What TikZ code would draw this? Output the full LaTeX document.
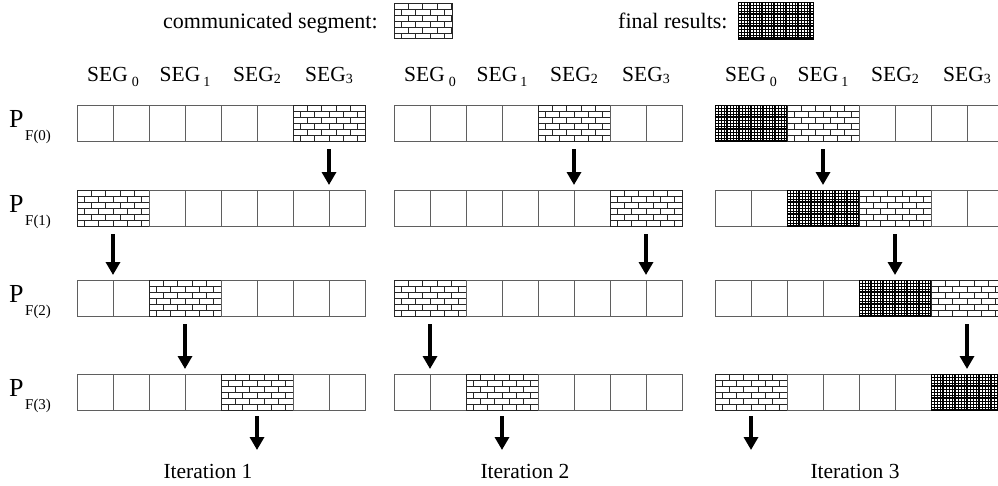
\documentclass[tikz,border=0pt]{standalone}
\usepackage{fontspec}
\setmainfont{Liberation Serif}
\usetikzlibrary{arrows.meta}

\definecolor{cellgray}{RGB}{95,95,95}
\newcommand{\subfont}{\fontsize{15}{15}\selectfont}
\newcommand{\segsubfont}{\fontsize{14}{14}\selectfont}

\tikzset{
  segbox/.style={minimum width=72pt, minimum height=36pt, inner sep=0pt, outer sep=0pt},
  plain/.style={segbox, draw=cellgray, line width=0.9pt,
    path picture={\draw[cellgray, line width=0.9pt]
      (path picture bounding box.north) -- (path picture bounding box.south);}},
  brick/.style={segbox, draw=black!85, line width=0.9pt},
  final/.style={segbox, draw=black, line width=0.9pt},
  brickline/.style={black!85, line width=0.8pt},
  gridline/.style={black, line width=0.8pt},
  gridbold/.style={black, line width=1.15pt},
  flow/.style={line width=3.3pt, -{Triangle[width=14pt,length=13pt]}},
  txt/.style={font=\fontsize{21.5}{24}\selectfont, inner sep=0pt},
  plab/.style={font=\fontsize{26}{28}\selectfont, inner sep=0pt, anchor=base west},
}

% brick wall inside a node: courses 6pt high, bricks 14.4pt long
\newcommand{\brickfill}[1]{%
  \begin{scope}
    \clip (#1.north west) rectangle (#1.south east);
    \begin{scope}[shift={(#1.north west)}]
      \foreach \c in {1,...,6} \draw[brickline] (0,\c*6) -- ++(100,0);
      \foreach \c in {0,...,6} {
        \pgfmathsetmacro\off{mod(\c,2)*7.2}
        \foreach \k in {0,...,6} \draw[brickline] (\off+\k*14.4,\c*6) -- ++(0,6);
      }
    \end{scope}
  \end{scope}
  \draw[black!85, line width=0.9pt] (#1.north west) rectangle (#1.south east);}

% dense cross-hatch inside a node
\newcommand{\gridfill}[1]{%
  \begin{scope}
    \clip (#1.north west) rectangle (#1.south east);
    \begin{scope}[shift={(#1.north west)}]
      \foreach \k in {0,...,27} {
        \draw[gridline] (\k*3,0) -- ++(0,45);
        \draw[gridline] (0,\k*3) -- ++(85,0);
      }
      \foreach \k in {0,...,7} {
        \draw[gridbold] (\k*12,0) -- ++(0,45);
        \draw[gridbold] (0,\k*12) -- ++(85,0);
      }
    \end{scope}
  \end{scope}
  \draw[black, line width=0.9pt] (#1.north west) rectangle (#1.south east);}

\begin{document}
\begin{tikzpicture}[x=1pt, y=-1pt]
  \useasboundingbox (0,0) rectangle (998,485);
  \fill[white] (0,0) rectangle (998,485);

  % legend
  \node[txt, font=\fontsize{22}{24}\selectfont, anchor=base west] (legc) at (163,28) {communicated segment:};
  \node[brick, minimum width=58pt, minimum height=35pt, anchor=north west] (legcbox) at (394,3) {};
  \brickfill{legcbox}
  \node[txt, font=\fontsize{22}{24}\selectfont, anchor=base west] (legf) at (618,28) {final results:};
  \node[final, minimum width=75pt, minimum height=37pt, anchor=north west] (legfbox) at (738,2) {};
  \gridfill{legfbox}

  % row labels
  \foreach \rw/\yt in {0/105, 1/190, 2/280, 3/374} {
    \node[plab] (p\rw) at (9,\yt+22) {P\hspace{1.5pt}\raisebox{-13pt}{\subfont F(\rw)}};
  }

  % segment headers
  \foreach \ii/\xo in {1/77, 2/394, 3/715} {
    \node[txt, anchor=base] (h\ii0) at (\xo+36,81) {SEG\hspace{4pt}\raisebox{-5pt}{\segsubfont 0}};
    \node[txt, anchor=base] (h\ii1) at (\xo+108,81) {SEG\hspace{3pt}\raisebox{-5pt}{\segsubfont 1}};
    \node[txt, anchor=base] (h\ii2) at (\xo+180,81) {SEG\raisebox{-2pt}{\segsubfont 2}};
    \node[txt, anchor=base] (h\ii3) at (\xo+252,81) {SEG\raisebox{-2pt}{\segsubfont 3}};
  }

  % the arrays: 4 segments of 2 cells per process and iteration
  \foreach \ii/\xo in {1/77, 2/394, 3/715} {
    \foreach \rw/\yt in {0/105, 1/190, 2/280, 3/374} {
      \pgfmathtruncatemacro\bs{mod(4-\ii+\rw,4)}
      \foreach \sg in {0,...,3} {
        \def\kind{plain}
        \ifnum\sg=\bs \def\kind{brick}\fi
        \ifnum\ii=3 \ifnum\sg=\rw \def\kind{final}\fi\fi
        \node[\kind, anchor=north west] (s\ii\rw\sg) at (\xo+72*\sg,\yt) {};
        \ifnum\sg=\bs \brickfill{s\ii\rw\sg}\fi
        \ifnum\ii=3 \ifnum\sg=\rw \gridfill{s\ii\rw\sg}\fi\fi
      }
    }
  }

  % transfers between processes
  \foreach \ii in {1,2,3} {
    \foreach \rw in {0,1,2} {
      \pgfmathtruncatemacro\bs{mod(4-\ii+\rw,4)}
      \pgfmathtruncatemacro\nr{\rw+1}
      \draw[flow] ([yshift=-8pt]s\ii\rw\bs.south) -- ([yshift=5pt]s\ii\nr\bs.north);
    }
    \pgfmathtruncatemacro\bs{mod(7-\ii,4)}
    \path ([yshift=-40pt]s\ii3\bs.south) coordinate (end\ii);
    \draw[flow] ([yshift=-6pt]s\ii3\bs.south) -- (end\ii);
  }

  % iteration captions
  \node[txt, anchor=base] (it1) at (208,478) {Iteration 1};
  \node[txt, anchor=base] (it2) at (525,478) {Iteration 2};
  \node[txt, anchor=base] (it3) at (855,478) {Iteration 3};
\end{tikzpicture}
\end{document}
